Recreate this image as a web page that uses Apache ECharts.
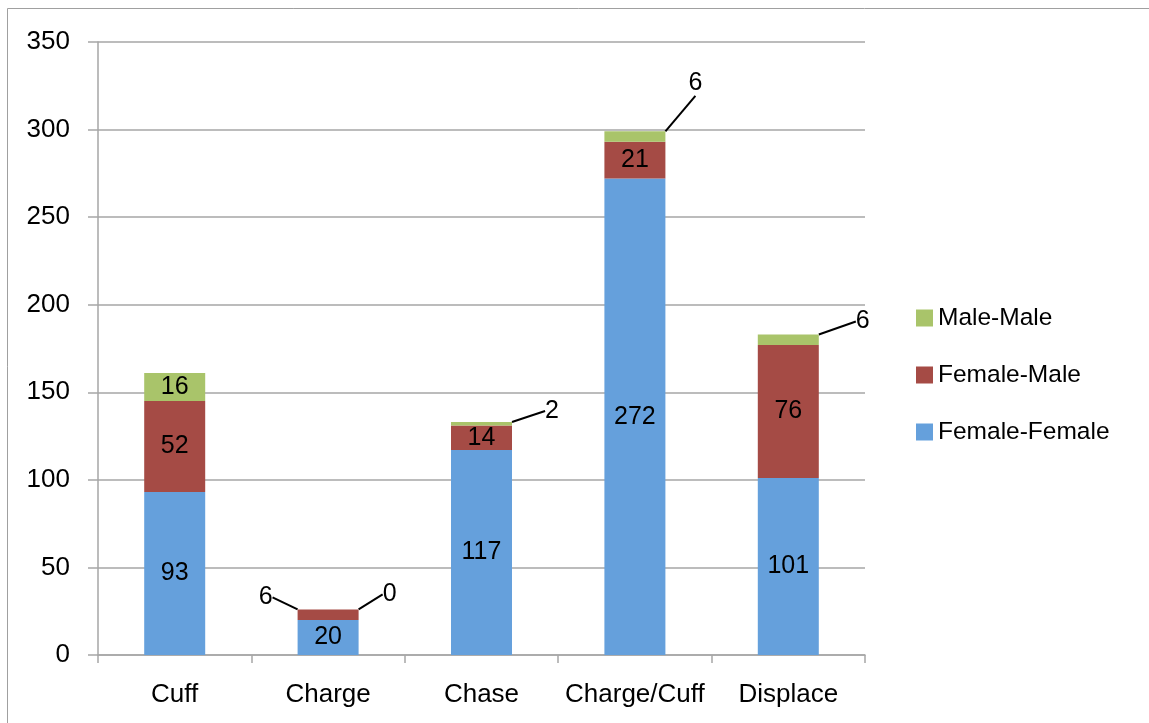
<!DOCTYPE html>
<html>
<head>
<meta charset="utf-8">
<script src="https://cdn.jsdelivr.net/npm/echarts@6/dist/echarts.min.js"></script>
<style>
  html, body { margin: 0; padding: 0; background: #ffffff; }
  #chart { width: 1149px; height: 723px; }
</style>
</head>
<body>
<div id="chart"></div>
<script>
// Interaction types observed, split by the sexes of the pair
const categories = ['Cuff', 'Charge', 'Chase', 'Charge/Cuff', 'Displace'];
const femaleFemale = [93, 20, 117, 272, 101];
const femaleMale = [52, 6, 14, 21, 76];
const maleMale = [16, 0, 2, 6, 6];
const yTicks = { min: 0, max: 350, step: 50 };

const FONT = "'Liberation Sans', Arial, sans-serif";
const GRID_GREY = '#a6a6a6';

// Segments too thin for an inside label get a label set off to the side
// with a leader line; offsets are relative to the segment rectangle.
const calloutOffsets = {
  'Female-Male': { 1: { side: 'left', dx: -32, dy: -12 } },
  'Male-Male': {
    1: { side: 'right', dx: 31, dy: -15 },
    2: { side: 'right', dx: 40, dy: -11 },
    3: { side: 'right', dx: 30, dy: -48 },
    4: { side: 'right', dx: 44, dy: -13 }
  }
};

function makeSeries(name, values, color) {
  const offs = calloutOffsets[name] || {};
  return {
    name: name,
    type: 'bar',
    stack: 'total',
    barWidth: 61,
    data: values,
    itemStyle: { color: color },
    label: {
      show: true,
      position: 'inside',
      color: '#000',
      fontFamily: FONT,
      fontSize: 25
    },
    labelLine: {
      show: true,
      lineStyle: { color: '#000', width: 2 }
    },
    labelLayout: function (params) {
      const o = offs[params.dataIndex];
      if (!o) return {};
      const r = params.rect;
      const x = o.side === 'left' ? r.x + o.dx : r.x + r.width + o.dx;
      return { x: x, y: r.y + o.dy, align: 'center', verticalAlign: 'middle' };
    }
  };
}

const chart = echarts.init(document.getElementById('chart'), null, { renderer: 'canvas' });
chart.setOption({
  animation: false,
  backgroundColor: '#ffffff',
  graphic: [{
    type: 'rect',
    shape: { x: 7.5, y: 8.5, width: 1300, height: 900 },
    style: { fill: 'none', stroke: '#a0a0a0', lineWidth: 1 },
    silent: true
  }],
  grid: { left: 98, right: 284, top: 42, bottom: 68, containLabel: false },
  legend: {
    orient: 'vertical',
    left: 911,
    top: 298,
    data: ['Male-Male', 'Female-Male', 'Female-Female'],
    icon: 'rect',
    itemWidth: 17,
    itemHeight: 17,
    itemGap: 27,
    textStyle: { fontFamily: FONT, fontSize: 24.5, color: '#000', lineHeight: 30 }
  },
  xAxis: {
    type: 'category',
    data: categories,
    axisLine: { lineStyle: { color: GRID_GREY, width: 1.5 } },
    axisTick: { show: true, length: 8, lineStyle: { color: GRID_GREY, width: 1.5 } },
    axisLabel: { interval: 0, color: '#000', fontFamily: FONT, fontSize: 26, margin: 27 }
  },
  yAxis: {
    type: 'value',
    min: yTicks.min,
    max: yTicks.max,
    interval: yTicks.step,
    axisLine: { show: true, lineStyle: { color: GRID_GREY, width: 1.5 } },
    axisTick: { show: true, length: 10, lineStyle: { color: GRID_GREY, width: 1.5 } },
    splitLine: { show: true, lineStyle: { color: GRID_GREY, width: 1.5 } },
    axisLabel: { color: '#000', fontFamily: FONT, fontSize: 26, margin: 28 }
  },
  series: [
    makeSeries('Female-Female', femaleFemale, '#65a0dc'),
    makeSeries('Female-Male', femaleMale, '#a54b45'),
    makeSeries('Male-Male', maleMale, '#a9c46a')
  ]
});
</script>
</body>
</html>
